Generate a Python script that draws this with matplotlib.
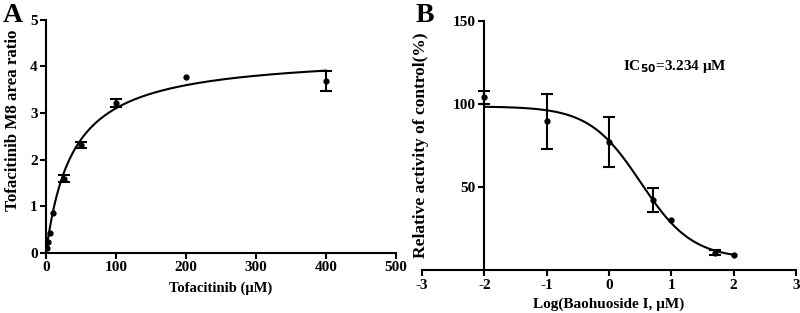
import numpy as np
import matplotlib
matplotlib.use("Agg")
import matplotlib.pyplot as plt

plt.rcParams['font.family'] = ['Liberation Serif', 'DejaVu Serif']
plt.rcParams['font.weight'] = 'bold'
plt.rcParams['axes.unicode_minus'] = False

# Panel A data: Tofacitinib concentration vs M8 area ratio
conc_a = [1, 2.5, 5, 10, 25, 50, 100, 200, 400]
ratio_a = [0.11, 0.23, 0.43, 0.85, 1.59, 2.31, 3.21, 3.77, 3.69]
err_a = [0, 0, 0, 0, 0.08, 0.07, 0.08, 0, 0.21]
vmax_a = 4.28   # fitted Michaelis-Menten params
km_a = 38.0

# Panel B data: log concentration vs relative activity
logc_b = [-2, -1, 0, 0.699, 1, 1.699, 2]
act_b = [104, 89.5, 77, 42.3, 30, 10.5, 9]
err_b = [4, 16.5, 15, 7, 0, 1.5, 0]
top_b, bottom_b, logic50_b, hill_b = 98.5, 7.0, 0.51, 1.05

fig = plt.figure(figsize=(8, 3.13), dpi=100)

def style(ax):
    for s in ['top', 'right']:
        ax.spines[s].set_visible(False)
    for s in ['left', 'bottom']:
        ax.spines[s].set_linewidth(1.5)
    ax.tick_params(direction='out', width=1.5, length=4, labelsize=11, pad=2)
    for t in ax.get_xticklabels() + ax.get_yticklabels():
        t.set_fontweight('bold')

def points(ax, x, y, e):
    x, y, e = np.array(x), np.array(y), np.array(e)
    m = e > 0
    ax.errorbar(x[m], y[m], yerr=e[m], fmt='none', ecolor='black',
                capsize=4, elinewidth=1.5, capthick=1.5)
    ax.plot(x, y, 'o', color='black', ms=3.5)

# ---- A
ax1 = fig.add_axes([0.0575, 0.192, 0.4375, 0.745])
xs = np.linspace(0, 400, 400)
ax1.plot(xs, vmax_a * xs / (km_a + xs), color='black', lw=1.5)
points(ax1, conc_a, ratio_a, err_a)
ax1.set_xlim(0, 500)
ax1.set_ylim(0, 5)
ax1.set_xticks([0, 100, 200, 300, 400, 500])
ax1.set_yticks([0, 1, 2, 3, 4, 5])
ax1.set_xlabel('Tofacitinib (μM)', fontsize=10.5, fontweight='bold', labelpad=5)
ax1.set_ylabel('Tofacitinib M8 area ratio', fontsize=12.2, fontweight='bold')
ax1.yaxis.set_label_coords(-0.071, 0.57)
style(ax1)
fig.text(0.003, 0.992, 'A', fontsize=20, fontweight='bold', va='top')

# ---- B
ax2 = fig.add_axes([0.5275, 0.136, 0.4675, 0.798])
xl = np.linspace(-2, 2, 300)
ax2.plot(xl, bottom_b + (top_b - bottom_b) / (1 + 10 ** ((xl - logic50_b) * hill_b)),
         color='black', lw=1.5)
points(ax2, logc_b, act_b, err_b)
ax2.set_xlim(-3, 3)
ax2.set_ylim(0, 150)
ax2.spines['left'].set_position(('data', -2))
ax2.set_xticks([-3, -2, -1, 0, 1, 2, 3])
ax2.set_yticks([50, 100, 150])
ax2.set_xlabel('Log(Baohuoside I, μM)', fontsize=11, fontweight='bold', labelpad=4)
ax2.set_ylabel('Relative activity of control(%)', fontsize=12.5, fontweight='bold')
ax2.yaxis.set_label_coords(0.019, 0.5)
ax2.text(0.22, 122.6, 'IC$_{50}$=3.234 μM', fontsize=11, fontweight='bold',
         va='center')
style(ax2)
fig.text(0.52, 0.992, 'B', fontsize=20, fontweight='bold', va='top')

fig.savefig('out.png', dpi=100)
